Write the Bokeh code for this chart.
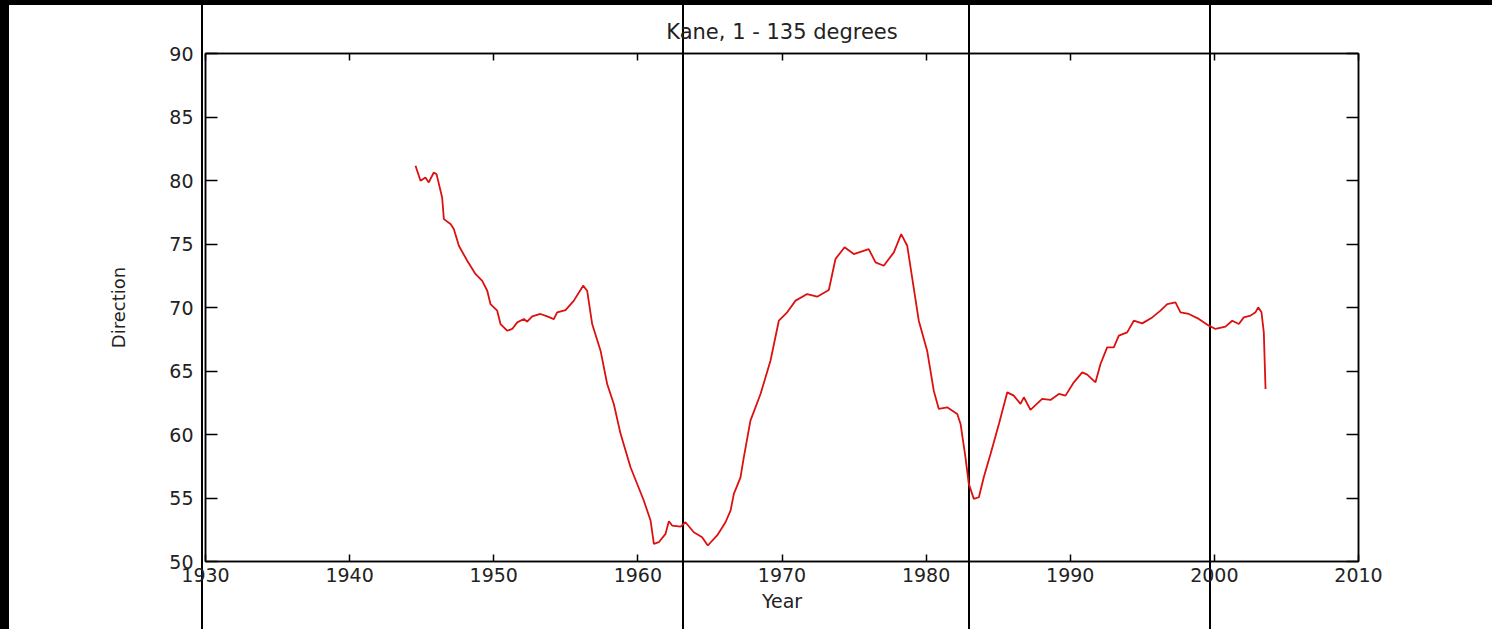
from bokeh.plotting import figure
from bokeh.models import Range1d, FixedTicker, LinearAxis
from bokeh.embed import file_html
from bokeh.resources import INLINE

# Kane series: direction (degrees) against year
years = [
    1944.57, 1944.92, 1945.26, 1945.49, 1945.84, 1946.03, 1946.42, 1946.54, 1947.00, 1947.23,
    1947.58, 1948.16, 1948.73, 1949.20, 1949.55, 1949.77, 1950.24, 1950.47, 1950.93, 1951.28,
    1951.63, 1952.09, 1952.32, 1952.67, 1953.24, 1953.71, 1954.17, 1954.40, 1954.98, 1955.56,
    1956.20, 1956.48, 1956.83, 1957.41, 1957.87, 1958.33, 1958.80, 1959.49, 1960.41, 1960.88,
    1961.11, 1961.45, 1961.92, 1962.15, 1962.38, 1962.96, 1963.30, 1963.88, 1964.46, 1964.85,
    1965.50, 1966.08, 1966.43, 1966.66, 1967.12, 1967.35, 1967.81, 1968.51, 1969.20, 1969.78,
    1970.36, 1970.94, 1971.75, 1972.44, 1973.25, 1973.71, 1974.34, 1974.98, 1976.02, 1976.49,
    1977.06, 1977.76, 1978.27, 1978.69, 1978.92, 1979.49, 1980.07, 1980.53, 1980.88, 1981.46,
    1982.16, 1982.39, 1982.73, 1982.96, 1983.31, 1983.66, 1984.00, 1984.47, 1985.05, 1985.63,
    1986.08, 1986.55, 1986.78, 1987.24, 1988.05, 1988.63, 1989.21, 1989.67, 1990.25, 1990.83,
    1991.18, 1991.75, 1992.10, 1992.56, 1993.02, 1993.37, 1993.95, 1994.41, 1994.99, 1995.69,
    1996.26, 1996.73, 1997.30, 1997.65, 1998.23, 1998.92, 1999.62, 2000.08, 2000.77, 2001.24,
    2001.70, 2002.04, 2002.51, 2002.85, 2003.04, 2003.27, 2003.43, 2003.55,
]
direction = [
    81.16, 79.98, 80.24, 79.85, 80.63, 80.50, 78.66, 76.96, 76.57, 76.18,
    74.86, 73.68, 72.64, 72.10, 71.32, 70.27, 69.75, 68.70, 68.17, 68.31,
    68.83, 69.09, 68.88, 69.30, 69.49, 69.30, 69.09, 69.62, 69.80, 70.54,
    71.72, 71.32, 68.70, 66.60, 63.98, 62.40, 60.05, 57.42, 54.80, 53.23,
    51.39, 51.52, 52.18, 53.17, 52.83, 52.75, 53.09, 52.30, 51.91, 51.26,
    52.05, 53.09, 54.01, 55.33, 56.63, 58.20, 61.09, 63.19, 65.81, 68.96,
    69.62, 70.54, 71.06, 70.85, 71.38, 73.82, 74.74, 74.21, 74.60, 73.55,
    73.29, 74.34, 75.78, 74.86, 73.16, 68.96, 66.60, 63.45, 62.01, 62.14,
    61.62, 60.83, 58.20, 56.11, 54.93, 55.06, 56.63, 58.47, 60.83, 63.32,
    63.06, 62.41, 62.93, 61.94, 62.80, 62.72, 63.19, 63.06, 64.11, 64.89,
    64.71, 64.11, 65.55, 66.86, 66.86, 67.78, 68.04, 68.96, 68.75, 69.22,
    69.75, 70.27, 70.40, 69.62, 69.49, 69.10, 68.57, 68.31, 68.49, 68.96,
    68.70, 69.22, 69.36, 69.62, 70.01, 69.62, 68.04, 63.59,
]

x_ticks = [1930, 1940, 1950, 1960, 1970, 1980, 1990, 2000, 2010]
y_ticks = [50, 55, 60, 65, 70, 75, 80, 85, 90]

FONT = "DejaVu Sans"
TXT = "#222222"

# page backdrop behind the (transparent) canvas: dark top band, dark left
# strip and thin vertical rules running the full height of the page
rules = "linear-gradient(to right, " + ", ".join([
    "#000 0px", "#000 9px", "transparent 9px", "transparent 201px",
    "#000 201px", "#000 203px", "transparent 203px", "transparent 682px",
    "#000 682px", "#000 684px", "transparent 684px", "transparent 968px",
    "#000 968px", "#000 970px", "transparent 970px", "transparent 1209px",
    "#000 1209px", "#000 1211px", "transparent 1211px", "transparent 100%",
]) + ")"
band = "linear-gradient(to bottom, #000 0px, #000 5px, transparent 5px, transparent 100%)"

p = figure(width=1492, height=629, output_backend="svg", toolbar_location=None,
           x_range=Range1d(1930, 2010), y_range=Range1d(50, 90),
           min_border_left=205, min_border_right=134,
           min_border_top=53, min_border_bottom=68)
p.styles = {"background-color": "white", "background-image": band + ", " + rules}
p.background_fill_color = None
p.border_fill_color = None
p.outline_line_color = "black"
p.outline_line_width = 1.5
p.grid.visible = False

p.title.text = "Kane, 1 - 135 degrees"
p.title.align = "center"
p.title.text_font = FONT
p.title.text_font_size = "21px"
p.title.text_font_style = "normal"
p.title.text_color = TXT
p.title.standoff = 19

p.line(years, direction, line_color="#dd1010", line_width=1.8)


def style_axis(ax, ticks, show_labels, tick_len):
    ax.ticker = FixedTicker(ticks=ticks)
    ax.axis_line_color = "black"
    ax.axis_line_width = 1.5
    ax.major_tick_in = tick_len
    ax.major_tick_out = 0
    ax.major_tick_line_color = "black"
    ax.major_tick_line_width = 1.5
    ax.minor_tick_line_color = None
    ax.major_label_text_font = FONT
    ax.major_label_text_color = TXT
    ax.major_label_text_font_size = "19px"
    if not show_labels:
        # mirrored box side: ticks only
        ax.major_label_overrides = {t: "" for t in ticks}
        ax.major_label_standoff = 0


# box-style axes: ticks point inward on all four sides
p.add_layout(LinearAxis(), "above")
p.add_layout(LinearAxis(), "right")
style_axis(p.below[0], x_ticks, True, 7)
style_axis(p.above[0], x_ticks, False, 7)
style_axis(p.left[0], y_ticks, True, 12)
style_axis(p.right[0], y_ticks, False, 12)

xb = p.below[0]
xb.major_label_standoff = 6
xb.axis_label = "Year"
xb.axis_label_text_font = FONT
xb.axis_label_text_font_size = "19px"
xb.axis_label_text_font_style = "normal"
xb.axis_label_text_color = TXT
xb.axis_label_standoff = 5

yl = p.left[0]
yl.major_label_standoff = 12
yl.axis_label = "Direction"
yl.axis_label_text_font = FONT
yl.axis_label_text_font_size = "18px"
yl.axis_label_text_font_style = "normal"
yl.axis_label_text_color = TXT
yl.axis_label_standoff = 37

open("out.html", "w").write(file_html(p, INLINE))
